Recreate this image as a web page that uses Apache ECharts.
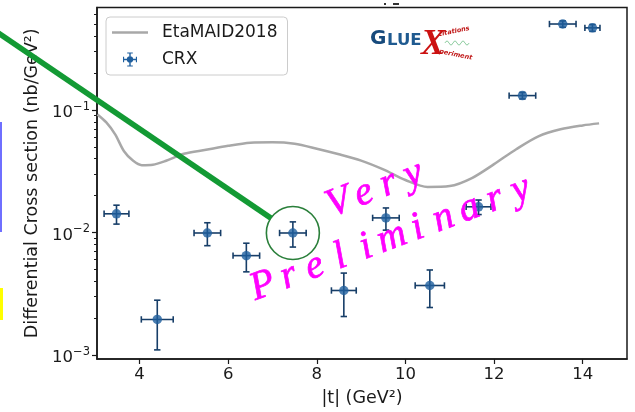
<!DOCTYPE html>
<html>
<head>
<meta charset="utf-8">
<script src="https://cdn.jsdelivr.net/npm/echarts@6/dist/echarts.min.js"></script>
<style>
  html, body { margin: 0; padding: 0; background: #ffffff; }
  #chart { width: 635px; height: 412px; }
</style>
</head>
<body>
<div id="chart"></div>
<script>
// CRX measured points: |t| bin centre, half bin width, cross section, error
const tVal    = [3.48, 4.40, 5.53, 6.41, 7.46, 8.61, 9.56, 10.55, 11.65, 12.64, 13.55, 14.22];
const tErr    = [0.28, 0.36, 0.30, 0.30, 0.30, 0.28, 0.30, 0.33, 0.28, 0.30, 0.30, 0.17];
const xsec    = [0.0142, 0.00195, 0.0099, 0.00647, 0.0099, 0.00336, 0.01315, 0.00369, 0.0162, 0.131, 0.503, 0.468];
const xsecErr = [0.0025, 0.00085, 0.0021, 0.0017, 0.0023, 0.0013, 0.0027, 0.00125, 0.0022, 0.008, 0.03, 0.03];

// EtaMAID2018 model curve
const etaT  = [3.05, 3.25, 3.45, 3.65, 3.85, 4.05, 4.3, 4.6, 5.0, 5.5, 6.0, 6.5, 7.0, 7.5, 8.0, 8.5, 9.0, 9.5, 10.0, 10.5, 11.0, 11.5, 12.0, 12.5, 13.0, 13.5, 14.0, 14.37];
const etaXs = [0.0919, 0.0791, 0.0632, 0.0460, 0.0386, 0.0354, 0.0357, 0.0385, 0.0439, 0.0473, 0.0510, 0.0540, 0.0545, 0.0530, 0.0483, 0.0435, 0.0386, 0.0327, 0.0268, 0.0235, 0.0239, 0.0278, 0.0361, 0.0478, 0.0609, 0.0695, 0.0748, 0.0777];

// axis ticks
const xTicks = [4, 6, 8, 10, 12, 14];
const yMajor = [0.001, 0.01, 0.1];
const yMinor = [0.002, 0.003, 0.004, 0.005, 0.006, 0.007, 0.008, 0.009,
                0.02, 0.03, 0.04, 0.05, 0.06, 0.07, 0.08, 0.09,
                0.2, 0.3, 0.4, 0.5, 0.6];

const FONT = 'DejaVu Sans';
const INK = '#1a1a1a';
const MARK = '#1f5f9e';
const BAR = '#173e68';
const CURVE = '#a8a8a8';

const chart = echarts.init(document.getElementById('chart'), null, { renderer: 'canvas' });

const points = tVal.map((t, i) => [t, xsec[i], tErr[i], xsecErr[i]]);
const curve = etaT.map((t, i) => [t, etaXs[i]]);

const yBase = {
  type: 'log', logBase: 10, min: 0.000927, max: 0.686,
  splitLine: { show: false }
};

const option = {
  animation: false,
  backgroundColor: '#ffffff',
  grid: { left: 97, right: 8, top: 7.5, bottom: 51, show: true, borderColor: INK, borderWidth: 1.5, backgroundColor: 'transparent' },
  legend: {
    orient: 'vertical', left: 106, top: 17,
    itemWidth: 36, itemHeight: 14, itemGap: 10,
    padding: [7, 10, 7, 6],
    backgroundColor: 'rgba(255,255,255,0.85)',
    borderColor: '#cccccc', borderWidth: 1, borderRadius: 4,
    textStyle: { fontFamily: FONT, fontSize: 17, color: INK, padding: [0, 0, 0, 9] },
    data: [
      { name: 'EtaMAID2018', icon: 'path://M0,0H36V2.5H0Z', itemStyle: { color: CURVE } },
      { name: 'CRX', icon: 'path://M2,11H22V13H2Z M2,8H3.6V16H2Z M20.4,8H22V16H20.4Z M11,2H13V22H11Z M8,2H16V3.6H8Z M8,20.4H16V22H8Z M12,7.5A4.5,4.5 0 1,1 11.99,7.5Z', itemStyle: { color: MARK } }
    ]
  },
  xAxis: {
    type: 'value', min: 3.04, max: 15,
    name: '|t| (GeV²)', nameLocation: 'middle', nameGap: 30,
    nameTextStyle: { fontFamily: FONT, fontSize: 17.5, color: INK },
    axisLine: { show: true, lineStyle: { color: INK, width: 1.5 } },
    axisTick: { show: true, length: 5, customValues: xTicks, lineStyle: { color: INK, width: 1.2 } },
    axisLabel: { customValues: xTicks, fontFamily: FONT, fontSize: 16.5, color: INK, margin: 7 },
    splitLine: { show: false }
  },
  yAxis: [
    Object.assign({}, yBase, {
      name: 'Differential Cross section (nb/GeV²)', nameLocation: 'middle', nameGap: 46, nameRotate: 90,
      nameTextStyle: { fontFamily: FONT, fontSize: 17.5, color: INK },
      axisLine: { show: true, lineStyle: { color: INK, width: 1.5 } },
      axisTick: { show: true, length: 5, customValues: yMajor, lineStyle: { color: INK, width: 1.2 } },
      axisLabel: {
        customValues: yMajor, margin: 7,
        formatter: v => '{b|10}{s|−' + Math.abs(Math.round(Math.log10(v))) + '}',
        rich: {
          b: { fontFamily: FONT, fontSize: 16.5, color: INK, padding: [6, 0, 0, 0] },
          s: { fontFamily: FONT, fontSize: 11.5, color: INK, padding: [0, 0, 6, 0] }
        }
      }
    }),
    Object.assign({}, yBase, {
      position: 'left',
      axisLine: { show: false },
      axisTick: { show: true, length: 3, customValues: yMinor, lineStyle: { color: INK, width: 1 } },
      axisLabel: { show: false }
    })
  ],
  series: [
    {
      name: 'EtaMAID2018', type: 'line', data: curve, symbol: 'none', smooth: 0.3,
      lineStyle: { color: CURVE, width: 2.5 }, itemStyle: { color: CURVE }, z: 2
    },
    {
      name: 'CRX', type: 'custom', data: points, encode: { x: 0, y: 1 }, z: 3,
      itemStyle: { color: MARK },
      renderItem: (params, api) => {
        const t = api.value(0), y = api.value(1), dt = api.value(2), dy = api.value(3);
        const c = api.coord([t, y]);
        const l = api.coord([t - dt, y])[0], r = api.coord([t + dt, y])[0];
        const top = api.coord([t, y + dy])[1], bot = api.coord([t, y - dy])[1];
        const cap = 3.2;
        const st = { stroke: BAR, lineWidth: 1.6 };
        const seg = (x1, y1, x2, y2) => ({ type: 'line', shape: { x1, y1, x2, y2 }, style: st });
        return {
          type: 'group',
          children: [
            seg(l, c[1], r, c[1]),
            seg(l, c[1] - cap, l, c[1] + cap),
            seg(r, c[1] - cap, r, c[1] + cap),
            seg(c[0], top, c[0], bot),
            seg(c[0] - cap, top, c[0] + cap, top),
            seg(c[0] - cap, bot, c[0] + cap, bot)
          ]
        };
      }
    },
    {
      name: 'CRX', type: 'scatter', data: points.map(p => [p[0], p[1]]),
      symbol: 'circle', symbolSize: 9.5, itemStyle: { color: MARK }, z: 4
    }
  ]
};

chart.setOption(option);

// annotation: circled point and pointer line
const hl = chart.convertToPixel({ seriesIndex: 2 }, [tVal[4], xsec[4]]);
const R = 26.5;
const start = [-5, 30.7];
const dx = start[0] - hl[0], dy = start[1] - hl[1];
const dn = Math.sqrt(dx * dx + dy * dy);
const edge = [hl[0] + dx / dn * R, hl[1] + dy / dn * R];

// watermark: letters laid out one by one along a slanted baseline
const wmStyle = { fill: '#ff00ff', stroke: '#ff00ff', lineWidth: 0.7, fontFamily: 'Liberation Serif', fontStyle: 'italic', fontSize: 40, align: 'center', verticalAlign: 'middle' };
function slantedWord(word, cx, cy, step, angleDeg) {
  const a = angleDeg * Math.PI / 180;
  return word.split('').map((ch, i) => ({
    type: 'text',
    x: cx + i * step * Math.cos(a),
    y: cy - i * step * Math.sin(a),
    rotation: a,
    style: Object.assign({ text: ch }, wmStyle),
    z: 102
  }));
}

chart.setOption({
  graphic: [
    { type: 'rect', shape: { x: 0, y: 122, width: 2, height: 110 }, style: { fill: '#6f6fff' }, z: 100 },
    { type: 'rect', shape: { x: 0, y: 288, width: 3, height: 32 }, style: { fill: '#ffff00' }, z: 100 },
    { type: 'rect', shape: { x: 384, y: 3, width: 2, height: 2 }, style: { fill: '#333' }, z: 100 },
    { type: 'rect', shape: { x: 393, y: 3, width: 6, height: 2 }, style: { fill: '#333' }, z: 100 },
    { type: 'circle', shape: { cx: hl[0], cy: hl[1], r: R }, style: { fill: 'none', stroke: '#2a7f3a', lineWidth: 1.6 }, z: 100 },
    { type: 'line', shape: { x1: start[0], y1: start[1], x2: edge[0], y2: edge[1] }, style: { stroke: '#139a34', lineWidth: 5.5 }, z: 101 },
    ...slantedWord('Very', 339, 203, 26.5, 21),
    ...slantedWord('Preliminary', 263, 286, 27.5, 20.5),
    // GlueX logo
    { type: 'text', x: 370, y: 49, style: { text: 'G', fontFamily: FONT, fontWeight: 'bold', fontSize: 20, fill: '#174a7c', verticalAlign: 'bottom' }, z: 90 },
    { type: 'text', x: 387, y: 49, style: { text: 'LUE', fontFamily: FONT, fontWeight: 'bold', fontSize: 16.5, fill: '#1f5a90', verticalAlign: 'bottom' }, z: 90 },
    { type: 'text', x: 421, y: 63, style: { text: 'X', fontFamily: 'Liberation Serif', fontStyle: 'italic', fontWeight: 'bold', fontSize: 36, fill: '#cc1111', verticalAlign: 'bottom' }, z: 91 },
    { type: 'text', x: 439, y: 38, rotation: 0.2, style: { text: 'citations', fontFamily: FONT, fontStyle: 'italic', fontWeight: 'bold', fontSize: 6.5, fill: '#c01818', verticalAlign: 'bottom' }, z: 91 },
    { type: 'text', x: 440, y: 48, rotation: -0.2, style: { text: 'periment', fontFamily: FONT, fontStyle: 'italic', fontWeight: 'bold', fontSize: 6.5, fill: '#c01818', verticalAlign: 'top' }, z: 91 },
    { type: 'polyline', shape: { points: [[445, 43], [447, 41], [449, 43], [451, 45], [453, 43], [455, 41], [457, 43], [459, 45], [461, 43], [463, 41], [465, 43], [467, 45], [469, 43]], smooth: 0.5 }, style: { fill: 'none', stroke: '#5fb87a', lineWidth: 0.8 }, z: 91 }
  ]
});
</script>
</body>
</html>
